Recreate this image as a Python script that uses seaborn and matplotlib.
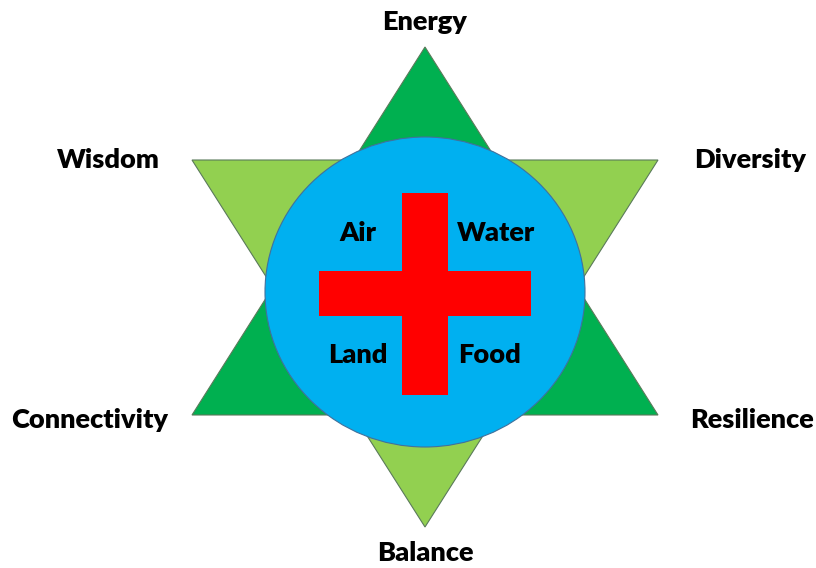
import numpy as np
import matplotlib.pyplot as plt
import seaborn as sns
from matplotlib.patches import Polygon, Ellipse, Rectangle

sns.set_theme(style='white')
plt.rcParams['font.family'] = ['Lato', 'DejaVu Sans']

# outer labels (star points) and inner labels (quadrants)
outer_labels = ['Energy', 'Diversity', 'Resilience', 'Balance', 'Connectivity', 'Wisdom']
outer_pos = [(425, 22), (750, 160), (752, 420), (425, 553), (90, 420), (108, 160)]
inner_labels = ['Air', 'Water', 'Land', 'Food']
inner_pos = [(358, 233), (496, 233), (358, 355), (490, 355)]

# shapes in pixel coordinates
up_tri = [(425, 47), (658, 415), (192, 415)]
down_tri = [(192, 160), (658, 160), (425, 527)]
circle_center, circle_w, circle_h = (425, 292), 320, 310
cross_v = (402, 193, 46, 202)   # x, y, w, h
cross_h = (319, 271, 212, 45)

fig = plt.figure(figsize=(8.16, 5.68), dpi=100)
ax = fig.add_axes([0, 0, 1, 1])
ax.set_xlim(0, 816)
ax.set_ylim(568, 0)
ax.axis('off')

ax.add_patch(Polygon(up_tri, closed=True, facecolor='#00B050', edgecolor='#5a7a5a', linewidth=0.8))
ax.add_patch(Polygon(down_tri, closed=True, facecolor='#92D050', edgecolor='#5a7a5a', linewidth=0.8))
ax.add_patch(Ellipse(circle_center, circle_w, circle_h, facecolor='#00B0F0', edgecolor='#41719C', linewidth=0.8))
for x, y, w, h in [cross_v, cross_h]:
    ax.add_patch(Rectangle((x, y), w, h, facecolor='#FF0000', edgecolor='none'))

for lab, (x, y) in zip(outer_labels, outer_pos):
    ax.text(x, y, lab, ha='center', va='center', fontsize=19.5, fontweight='heavy', color='black')
for lab, (x, y) in zip(inner_labels, inner_pos):
    ax.text(x, y, lab, ha='center', va='center', fontsize=19.5, fontweight='heavy', color='black')

fig.savefig('out.png', dpi=100)
